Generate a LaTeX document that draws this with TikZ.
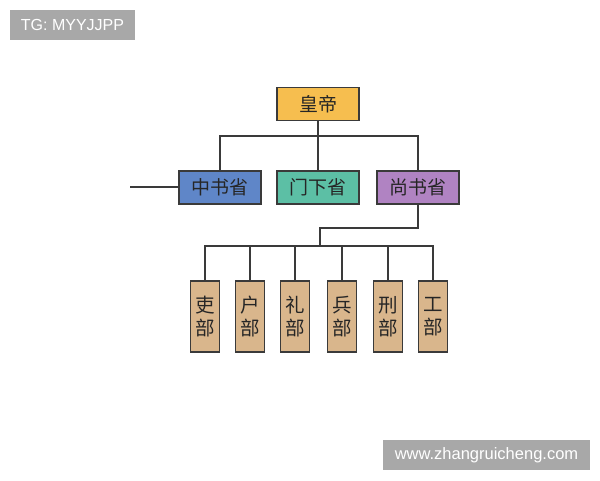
\documentclass[tikz,border=0pt]{standalone}
\usepackage{fontspec}
\setmainfont{Liberation Sans}
\newfontfamily\cjk{Noto Sans CJK SC}
\definecolor{cOrange}{HTML}{F6BE4F}
\definecolor{cBlue}{HTML}{5F86C8}
\definecolor{cTeal}{HTML}{5CBFA5}
\definecolor{cPurple}{HTML}{B083C2}
\definecolor{cTan}{HTML}{D9B68C}
\definecolor{cLine}{HTML}{3A3A3A}
\definecolor{cTag}{HTML}{A8A8A8}
\begin{document}
\begin{tikzpicture}[x=1pt,y=-1pt,
  box/.style={draw=cLine,line width=1.4pt,minimum width=82pt,minimum height=33pt,inner sep=0pt,font=\cjk\fontsize{19}{19}\selectfont,text=black!85},
  dept/.style={draw=cLine,line width=1.4pt,fill=cTan,minimum width=29pt,minimum height=71pt,inner sep=0pt,font=\cjk\fontsize{19.5}{23}\selectfont,align=center,text=black!85},
  conn/.style={draw=cLine,line width=1.4pt},
  tag/.style={fill=cTag,text=white,inner sep=0pt}]
\useasboundingbox (0,0) rectangle (600,480);
\node[tag,minimum width=125pt,minimum height=30pt,font=\fontsize{16}{16}\selectfont] (tg) at (72.5,25) {TG: MYYJJPP};
\node[tag,minimum width=207pt,minimum height=30pt,font=\fontsize{16.5}{16}\selectfont] (wm) at (486.5,455) {www.zhangruicheng.com};

\node[box,fill=cOrange] (hd) at (318,104) {皇帝};
\node[box,fill=cBlue] (zs) at (220,187.5) {中书省};
\node[box,fill=cTeal] (mx) at (318,187.5) {门下省};
\node[box,fill=cPurple] (ss) at (418,187.5) {尚书省};

\coordinate (bus1) at (318,136);
\coordinate (lend) at (130,187);
\coordinate (s1) at (418,228);
\coordinate (s2) at (320,228);
\coordinate (bus2) at (320,246);

\node[dept] (d1) at (205,316.5) {吏\\部};
\node[dept] (d2) at (250,316.5) {户\\部};
\node[dept] (d3) at (295,316.5) {礼\\部};
\node[dept] (d4) at (342,316.5) {兵\\部};
\node[dept] (d5) at (388,316.5) {刑\\部};
\node[dept] (d6) at (433,316.5) {工\\部};

\draw[conn] (hd.south) -- (bus1);
\draw[conn] (zs.north) |- (bus1) -| (ss.north);
\draw[conn] (bus1) -- (mx.north);
\draw[conn] (lend) -- (zs.west |- lend);
\draw[conn] (ss.south) -- (s1) -- (s2) -- (bus2);
\draw[conn] (d1.north) |- (bus2) -| (d6.north);
\draw[conn] (d2.north) -- (d2.north |- bus2);
\draw[conn] (d3.north) -- (d3.north |- bus2);
\draw[conn] (d4.north) -- (d4.north |- bus2);
\draw[conn] (d5.north) -- (d5.north |- bus2);
\end{tikzpicture}
\end{document}
